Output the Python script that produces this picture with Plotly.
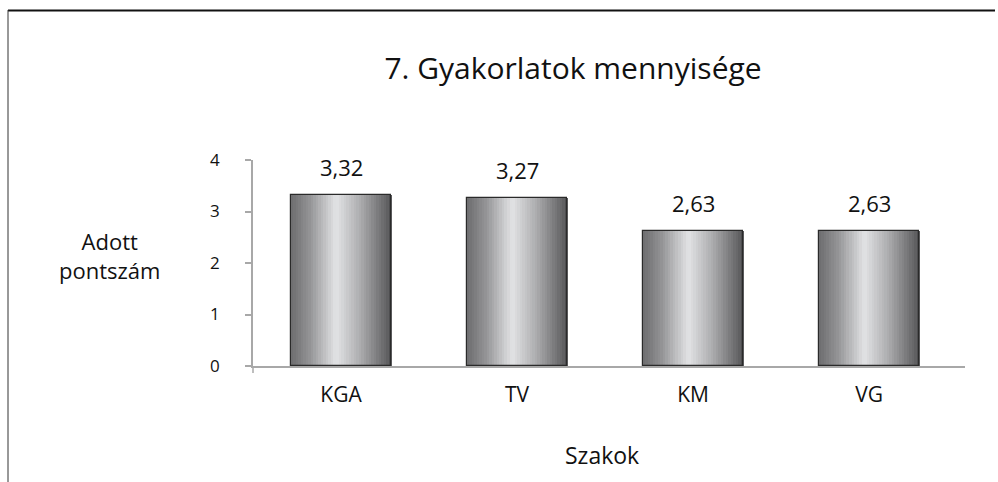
import plotly.graph_objects as go

categories = ["KGA", "TV", "KM", "VG"]
values = [3.32, 3.27, 2.63, 2.63]
value_labels = ["3,32", "3,27", "2,63", "2,63"]
y_ticks = [0, 1, 2, 3, 4]

title_text = "7. Gyakorlatok mennyisége"
y_title = "Adott<br>pontszám"
x_title = "Szakok"

FONT = "Open Sans"
W, H = 998, 482
L, R, T, B = 253, 33, 160, 116
PW = W - L - R
PH = H - T - B

BAR_W = 0.57
N = 40

def grad(t):
    stops = [(0.0, (108, 108, 110)), (0.2, (150, 150, 152)), (0.45, (226, 227, 229)),
             (0.7, (170, 170, 172)), (1.0, (86, 86, 88))]
    for (t0, c0), (t1, c1) in zip(stops[:-1], stops[1:]):
        if t0 <= t <= t1:
            f = (t - t0) / (t1 - t0)
            return "rgb(%d,%d,%d)" % tuple(round(a + (b - a) * f) for a, b in zip(c0, c1))
    return "rgb(86,86,88)"

fig = go.Figure()
sw = BAR_W / N
for i in range(N):
    fig.add_trace(go.Bar(
        x=categories, y=values,
        width=sw * 1.15, offset=-BAR_W / 2 + i * sw,
        marker=dict(color=grad((i + 0.5) / N), line=dict(width=0)),
        hoverinfo="skip", showlegend=False,
    ))
# outline
fig.add_trace(go.Bar(
    x=categories, y=values, width=BAR_W,
    marker=dict(color="rgba(0,0,0,0)", line=dict(color="#2a2a2a", width=1.2)),
    showlegend=False,
))

for c, v, t in zip(categories, values, value_labels):
    fig.add_annotation(x=c, y=v, text=t, showarrow=False, yanchor="bottom", yshift=11,
                       font=dict(family=FONT, size=22, color="#111"))

fig.update_layout(
    width=W, height=H,
    margin=dict(l=L, r=R, t=T, b=B, pad=0),
    paper_bgcolor="white", plot_bgcolor="white",
    barmode="overlay",
    bargap=0,
    title=dict(text=title_text, x=(573) / W, xanchor="center", y=1 - 68 / H, yanchor="middle",
               font=dict(family=FONT, size=30, color="#111")),
    font=dict(family=FONT, color="#111"),
    xaxis=dict(
        range=[-0.5, 3.545], showgrid=False, showline=True, linecolor="#a8a8a8", linewidth=1.5,
        ticks="", tickfont=dict(family=FONT, size=21, color="#111"), ticklabelstandoff=9,
        zeroline=False, fixedrange=True,
    ),
    yaxis=dict(
        range=[0, 4], tickvals=y_ticks, ticktext=[str(v) for v in y_ticks],
        showgrid=False, showline=True, linecolor="#a8a8a8", linewidth=1.5,
        ticks="outside", ticklen=6, tickcolor="#a8a8a8", tickwidth=1.5,
        tickfont=dict(family=FONT, size=17, color="#111"), ticklabelstandoff=22,
        zeroline=False, fixedrange=True,
    ),
)

fig.add_annotation(xref="paper", yref="paper", x=(109 - L) / PW, y=(H - B - 255) / PH,
                   xanchor="center", yanchor="middle",
                   text=y_title, showarrow=False, align="center",
                   font=dict(family=FONT, size=22, color="#111"))
fig.add_annotation(xref="paper", yref="paper", x=(602 - L) / PW, y=(H - B - 455) / PH,
                   xanchor="center", yanchor="middle",
                   text=x_title, showarrow=False,
                   font=dict(family=FONT, size=23, color="#111"))

# y-axis extension below zero
fig.add_shape(type="line", xref="paper", yref="paper", x0=0, x1=0, y0=0, y1=-7 / PH,
              line=dict(color="#a8a8a8", width=1.5))
# outer frame (top and left edges)
fig.add_shape(type="line", xref="paper", yref="paper",
              x0=(8 - L) / PW, x1=(995 - L) / PW, y0=(H - B - 10.5) / PH, y1=(H - B - 10.5) / PH,
              line=dict(color="#111", width=2))
fig.add_shape(type="line", xref="paper", yref="paper",
              x0=(8 - L) / PW, x1=(8 - L) / PW, y0=(H - B - 10) / PH, y1=(H - B - 490) / PH,
              line=dict(color="#333", width=1))

fig.write_html("out.html", config={"displayModeBar": False},
               post_script="document.body.style.margin='0px';document.body.style.overflow='hidden';")
